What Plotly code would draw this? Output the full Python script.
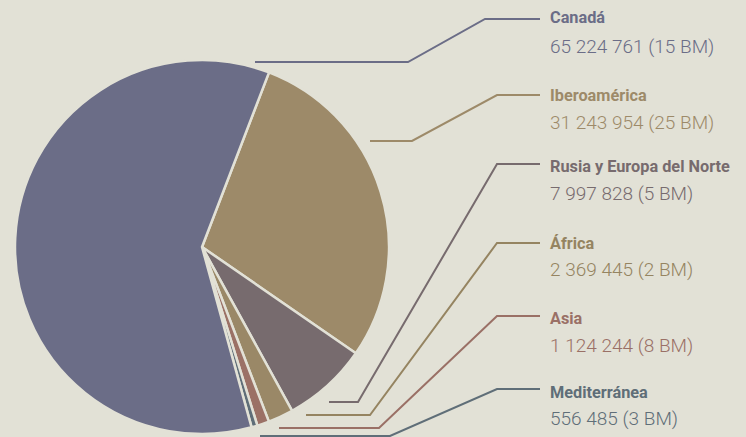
import plotly.graph_objects as go

# ---- data ----
regions = ["Canadá", "Iberoamérica", "Rusia y Europa del Norte", "África", "Asia", "Mediterránea"]
population = [65224761, 31243954, 7997828, 2369445, 1124244, 556485]
value_labels = ["65 224 761 (15 BM)", "31 243 954 (25 BM)", "7 997 828 (5 BM)",
                "2 369 445 (2 BM)", "1 124 244 (8 BM)", "556 485 (3 BM)"]

# ---- styles ----
BG = "#E2E1D6"
colors = ["#6B6D87", "#9D8A69", "#776B6E", "#9A8867", "#9B7166", "#5F6E78"]
text_colors = ["#6B6D87", "#9D8A69", "#776B6E", "#958461", "#9A7066", "#5F6E78"]
FONT = "Roboto, Liberation Sans, sans-serif"

W, H = 746, 437

# pie drawn clockwise starting at the Iberoamérica slice
order = [1, 2, 3, 4, 5, 0]

fig = go.Figure()
fig.add_trace(go.Pie(
    labels=[regions[i] for i in order],
    values=[population[i] for i in order],
    marker=dict(colors=[colors[i] for i in order], line=dict(color=BG, width=2.5)),
    sort=False,
    direction="clockwise",
    rotation=21,
    textinfo="none",
    hoverinfo="label+value",
    showlegend=False,
    domain=dict(x=[15 / W, 389 / W], y=[(H - 434) / H, (H - 60) / H]),
))

# leader line layout (pixel positions)
leaders = [
    [(255, 62), (408, 62), (485, 19), (540, 19)],
    [(370, 141), (412, 141), (497, 95), (540, 95)],
    [(329, 402), (358, 402), (497, 164), (540, 164)],
    [(306, 415), (370, 415), (497, 243), (540, 243)],
    [(279, 428), (379, 428), (497, 316), (540, 316)],
    [(260, 436), (390, 436), (497, 389), (540, 389)],
]
name_y = [18, 96, 166, 243, 318, 392]
value_y = [46, 122, 193, 269, 345, 418]

def px(x):
    return x / W

def py(y):
    return (H - y) / H

shapes = []
annotations = []
for i, pts in enumerate(leaders):
    path = "M " + " L ".join(f"{px(x):.5f},{py(y):.5f}" for x, y in pts)
    shapes.append(dict(type="path", xref="paper", yref="paper", path=path,
                       line=dict(color=text_colors[i], width=2)))
    annotations.append(dict(x=px(548), y=py(name_y[i]), xref="paper", yref="paper",
                            xanchor="left", yanchor="middle", showarrow=False,
                            text=regions[i],
                            font=dict(family=FONT, size=16.3, weight=700, color=text_colors[i])))
    annotations.append(dict(x=px(548), y=py(value_y[i]), xref="paper", yref="paper",
                            xanchor="left", yanchor="middle", showarrow=False,
                            text=value_labels[i],
                            font=dict(family=FONT, size=19, weight=300, color=text_colors[i])))

fig.update_layout(
    width=W, height=H,
    margin=dict(l=0, r=0, t=0, b=0),
    paper_bgcolor=BG, plot_bgcolor=BG,
    shapes=shapes, annotations=annotations,
)

fig.write_html("out.html", config={"displayModeBar": False},
               post_script="document.body.style.margin='0';")
